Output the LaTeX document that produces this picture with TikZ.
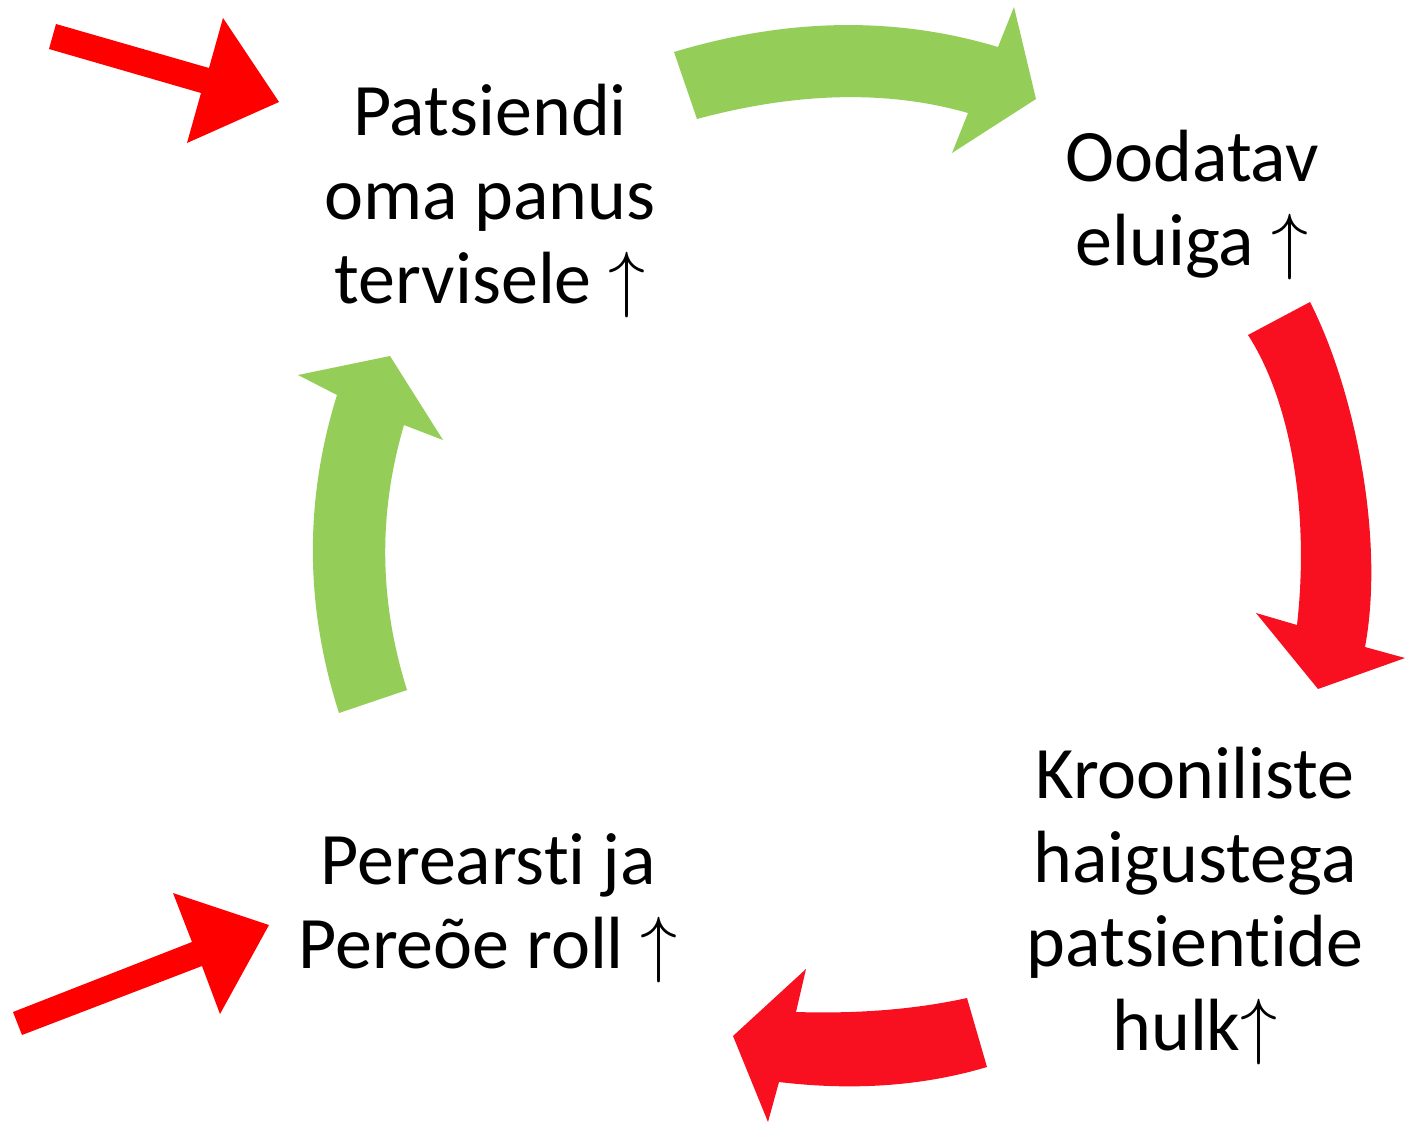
\RequirePackage{fix-cm}
\documentclass[tikz,border=0pt]{standalone}
\usepackage{fontspec}
\setmainfont{Carlito}[Ligatures=NoCommon]
\definecolor{cyclegreen}{RGB}{148,206,88}
\definecolor{cyclered}{RGB}{248,16,32}
\definecolor{inred}{RGB}{255,0,0}
\tikzset{
  greenarrow/.style={fill=cyclegreen, draw=none},
  redarrow/.style={fill=cyclered, draw=none},
  inarrow/.style={fill=inred, draw=none},
  label/.style={align=center, anchor=base, inner sep=0pt,
    font=\fontsize{37}{42}\selectfont, text=black}
}
\begin{document}
\begin{tikzpicture}[x=0.5pt,y=-0.5pt]
\useasboundingbox (0,0) rectangle (1409,1124);
\fill[white] (0,0) rectangle (1409,1124);

% text blocks (anchor = baseline of last line)
\node[label] (patsient) at (490,303) {Patsiendi\\oma panus\\tervisele $\uparrow$};
\node[label] (eluiga) at (1192,265) {Oodatav\\eluiga $\uparrow$};
\node[label] (kroonilised) at (1195,1050) {Krooniliste\\haigustega\\patsientide\\hulk$\uparrow$};
\node[label] (perearst) at (488,968) {Perearsti ja\\Pereõe roll $\uparrow$};

% green top arrow
\fill[greenarrow] (674,52) .. controls (787,18) and (895,16) .. (998,47)
  -- (1014,7) -- (1036,99) -- (952,153) -- (968,113)
  .. controls (888,90) and (797,92) .. (697,119) -- cycle;

% red right arrow
\fill[redarrow] (1310,302) .. controls (1355,390) and (1385,540) .. (1365,647)
  -- (1405,658) -- (1318,689) -- (1256,613) -- (1297,625)
  .. controls (1310,510) and (1290,400) .. (1248,335) -- cycle;

% red bottom arrow
\fill[redarrow] (987,1067) .. controls (923,1086) and (854,1091) .. (779,1082)
  -- (768,1122) -- (733,1036) -- (806,969) -- (796,1012)
  .. controls (860,1014) and (917,1009) .. (967,998) -- cycle;

% green left arrow
\fill[greenarrow] (339,713) .. controls (305,607) and (304,501) .. (337,395)
  -- (298,375) -- (390,356) -- (443,440) -- (404,425)
  .. controls (378,513) and (379,601) .. (407,690) -- cycle;

% incoming straight arrows
\fill[inarrow] (56,24) -- (209,68) -- (223,18) -- (279,102) -- (187,143)
  -- (201,93) -- (49,49) -- cycle;
\fill[inarrow] (13,1012) -- (192,942) -- (173,893) -- (269,925) -- (220,1014)
  -- (202,966) -- (22,1035) -- cycle;
\end{tikzpicture}
\end{document}
